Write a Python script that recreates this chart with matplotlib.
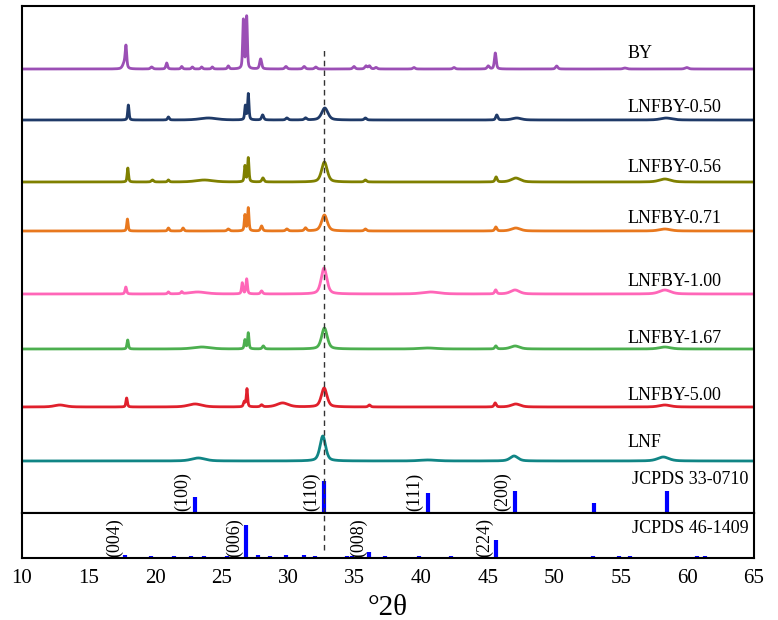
import numpy as np
import matplotlib.pyplot as plt

plt.rcParams['font.family'] = ['Liberation Serif', 'DejaVu Serif']

# 2-theta grid for the measured patterns
two_theta = np.linspace(10, 65, 5000)

names = ["BY", "LNFBY-0.50", "LNFBY-0.56", "LNFBY-0.71",
         "LNFBY-1.00", "LNFBY-1.67", "LNFBY-5.00", "LNF"]
colors = ["#9b4fb5", "#1f3a68", "#7f8000", "#e8781e",
          "#ff66b8", "#4caf4f", "#e0202c", "#108585"]
offsets = [444, 393, 331, 282, 219, 164, 106, 52]

# peaks per pattern: (position, height, fwhm)
peaks_BY = [(17.70, 6, 0.30), (17.81, 20, 0.13), (19.74, 2, 0.2), (20.87, 6, 0.15),
            (22.0, 2.5, 0.15), (22.8, 2, 0.15), (23.5, 2, 0.15), (24.3, 2, 0.15),
            (25.5, 3, 0.15), (26.63, 49, 0.12), (26.88, 52, 0.12), (27.93, 10, 0.18),
            (29.83, 2.5, 0.2), (31.2, 2.5, 0.2), (32.07, 2, 0.2), (34.94, 2.5, 0.2),
            (35.84, 3, 0.2), (36.1, 3, 0.2), (36.6, 1.5, 0.2), (39.45, 1.5, 0.2),
            (42.46, 1.5, 0.2), (45.03, 3, 0.2), (45.56, 16, 0.16), (50.17, 3, 0.2),
            (55.3, 1, 0.3), (59.94, 1.5, 0.3)]
peaks_050 = [(17.99, 15, 0.12), (21.0, 3, 0.15), (24.0, 2, 1.5), (26.78, 14, 0.12),
             (27.0, 26, 0.12), (28.08, 5, 0.18), (29.9, 2, 0.2), (31.3, 2, 0.2),
             (32.75, 12, 0.55), (35.8, 2, 0.2), (45.67, 5, 0.18), (47.17, 2, 0.8),
             (58.4, 2, 1.0)]
peaks_056 = [(17.95, 14, 0.12), (19.8, 2, 0.2), (21.0, 2, 0.15), (23.7, 2, 1.5),
             (26.75, 16, 0.12), (27.0, 24, 0.12), (28.1, 4, 0.18), (32.72, 20, 0.5),
             (35.8, 2, 0.2), (45.62, 5, 0.18), (47.1, 4, 0.8), (58.3, 3, 1.0)]
peaks_071 = [(17.92, 12, 0.12), (21.0, 3, 0.15), (22.1, 3, 0.15), (25.5, 2, 0.2),
             (26.75, 16, 0.12), (27.0, 23, 0.12), (28.0, 5, 0.18), (29.9, 2, 0.2),
             (31.3, 3, 0.2), (32.72, 16, 0.5), (35.8, 2, 0.2), (45.6, 4, 0.18),
             (47.1, 3, 0.8), (58.3, 2, 1.0)]
peaks_100 = [(17.8, 7, 0.14), (21.0, 2, 0.15), (22.0, 2, 0.15), (23.2, 2, 1.5),
             (26.55, 11, 0.13), (26.88, 15, 0.13), (28.0, 3, 0.18), (32.69, 26, 0.5),
             (40.7, 2, 1.5), (45.59, 4, 0.18), (47.04, 4, 0.8), (58.3, 4, 1.0)]
peaks_167 = [(17.94, 9, 0.13), (23.5, 2, 1.5), (26.75, 9, 0.13), (27.0, 16, 0.12),
             (28.13, 3, 0.18), (32.72, 21, 0.5), (40.5, 1, 1.5), (45.6, 3, 0.18),
             (47.05, 3, 0.8), (58.3, 2, 1.0)]
peaks_500 = [(12.85, 2, 1.0), (17.86, 9, 0.13), (23.0, 3, 1.2), (26.7, 5, 0.15),
             (26.9, 18, 0.12), (28.0, 2, 0.2), (29.58, 4, 1.0), (32.7, 19, 0.5),
             (36.1, 2, 0.2), (45.55, 4, 0.18), (47.1, 3, 0.8), (58.3, 2, 1.0)]
peaks_LNF = [(23.25, 3, 1.2), (32.6, 25, 0.5), (40.5, 1, 1.5), (46.97, 5, 0.7),
             (58.18, 4, 1.0)]
pattern_peaks = [peaks_BY, peaks_050, peaks_056, peaks_071,
                 peaks_100, peaks_167, peaks_500, peaks_LNF]

# reference stick patterns: position, relative height
pdf_330710_pos = [23.0, 32.7, 40.48, 47.04, 53.0, 58.43]
pdf_330710_int = [16, 32, 20, 22, 10, 22]
pdf_330710_hkl = ["(100)", "(110)", "(111)", "(200)", "", ""]

pdf_461409_pos = [17.74, 19.7, 21.4, 22.7, 23.7, 25.4, 26.8, 27.7, 28.6, 29.8,
                  31.2, 32.0, 34.4, 34.8, 36.07, 37.3, 39.8, 42.2, 45.59, 52.9,
                  54.85, 55.7, 60.7, 61.3]
pdf_461409_int = [3, 1.5, 1.5, 1.5, 2, 2, 33, 2.5, 1.5, 2.5, 2.5, 2, 1.5, 2, 6, 1.5,
                  1.5, 1.5, 17.5, 1.5, 2, 2, 1.5, 2]
pdf_461409_hkl = {17.74: "(004)", 26.8: "(006)", 36.07: "(008)", 45.59: "(224)"}


def profile(x, peaks):
    # pseudo-Voigt sum
    y = np.zeros_like(x)
    for pos, h, w in peaks:
        g = np.exp(-4 * np.log(2) * ((x - pos) / w) ** 2)
        l = 1.0 / (1 + 4 * ((x - pos) / w) ** 2)
        y += h * (0.5 * g + 0.5 * l)
    return y


fig = plt.figure(figsize=(7.78, 6.2), dpi=100)
ax = fig.add_axes([0.0283, 0.1726, 0.9409, 0.8177])
ax2 = fig.add_axes([0.0283, 0.1, 0.9409, 0.0726], sharex=ax)

for name, c, off, pk in zip(names, colors, offsets, pattern_peaks):
    ax.plot(two_theta, profile(two_theta, pk) + off, color=c, lw=2.0)

label_y = [460, 406, 346, 295, 231, 174, 117, 70]
for name, ly in zip(names, label_y):
    ax.text(55.5, ly, name, fontsize=13, va='center', ha='left')

ax.vlines(pdf_330710_pos, 0, pdf_330710_int, color='#0000ff', lw=3)
for p, lab in zip(pdf_330710_pos, pdf_330710_hkl):
    if lab:
        ax.text(p - 0.95, 2, lab, rotation=90, fontsize=13, ha='center', va='bottom')
ax.text(55.8, 33, "JCPDS 33-0710", fontsize=13, va='center', ha='left')

ax2.vlines(pdf_461409_pos, 0, pdf_461409_int, color='#0000ff', lw=3)
for p, lab in pdf_461409_hkl.items():
    ax2.text(p - 0.8, 1, lab, rotation=90, fontsize=13, ha='center', va='bottom')
ax2.text(55.8, 29, "JCPDS 46-1409", fontsize=13, va='center', ha='left')

# guide at the (110) reflection
ax.axvline(32.7, ymin=0, ymax=465 / 507, color='#333333', lw=1, ls=(0, (4, 3)))
ax2.axvline(32.7, ymin=8 / 45, ymax=1, color='#333333', lw=1, ls=(0, (4, 3)))

ax.set_xlim(10, 65)
ax.set_ylim(0, 507)
ax2.set_ylim(0, 45)
for a in (ax, ax2):
    a.set_yticks([])
    for s in a.spines.values():
        s.set_linewidth(1.5)
ax.tick_params(axis='x', length=0, labelbottom=False)
ax2.set_xticks(np.arange(10, 66, 5))
ax2.tick_params(axis='x', length=0, labelsize=15, pad=8)
ax2.set_xlabel("°2θ", fontsize=21, labelpad=5)

fig.savefig("out.png", dpi=100)
